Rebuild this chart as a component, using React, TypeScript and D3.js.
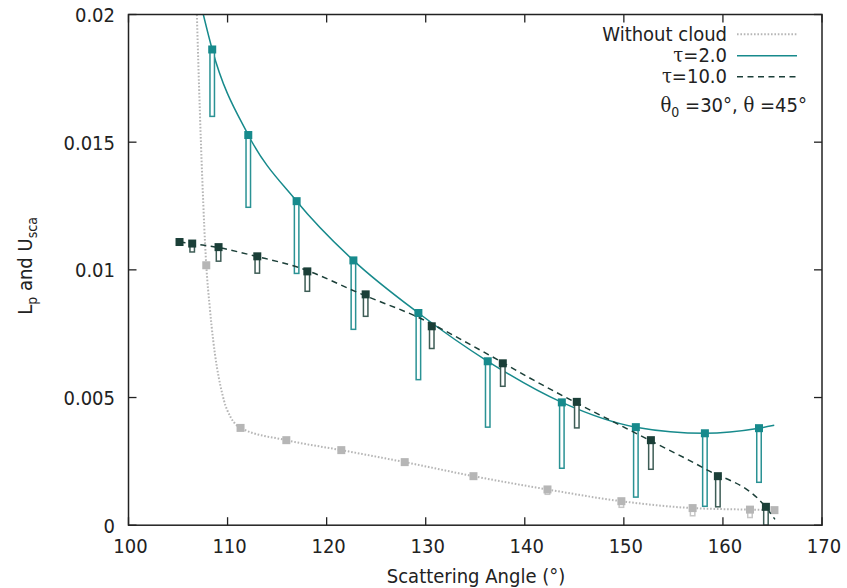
import React from "react";
import * as d3 from "d3";

// ---- data ----
const xTicks = [100, 110, 120, 130, 140, 150, 160, 170];
const yTicks = [0, 0.005, 0.01, 0.015, 0.02];
const yTickLabels = ["0", "0.005", "0.01", "0.015", "0.02"];

// Without cloud
const greyAngle = [107.85, 111.31, 115.93, 121.48, 127.88, 134.82, 142.29, 149.75, 156.94, 162.73, 165.2];
const greyLp = [0.01018, 0.00381, 0.00333, 0.00294, 0.00247, 0.00192, 0.0014, 0.00094, 0.00067, 0.00061, 0.00059];
const greyU = [0.01018, 0.00381, 0.00333, 0.00294, 0.00247, 0.00192, 0.00121, 0.0007, 0.00037, 0.0003, 0.00059];
const greyCurveX = [106.9, 107.2, 107.44, 107.85, 108.2, 109.63, 110.3, 111.31, 115.93, 121.48, 127.88, 134.82, 142.29, 149.75, 156.94, 162.73, 165.2];
const greyCurveY = [0.02, 0.01624, 0.01363, 0.01018, 0.00854, 0.00489, 0.00424, 0.00381, 0.00333, 0.00294, 0.00247, 0.00192, 0.0014, 0.00094, 0.00067, 0.00061, 0.00059];

// tau = 2.0
const tau2Angle = [108.45, 112.09, 116.97, 122.7, 129.26, 136.26, 143.74, 151.21, 158.18, 163.64];
const tau2Lp = [0.01863, 0.01528, 0.01269, 0.01037, 0.00831, 0.00642, 0.00481, 0.00384, 0.0036, 0.0038];
const tau2U = [0.01601, 0.01245, 0.00986, 0.00767, 0.0057, 0.00384, 0.00223, 0.0011, 0.00074, 0.00168];
const tau2CurveX = [107.55, 108.45, 112.09, 116.97, 122.7, 129.26, 136.26, 143.74, 151.21, 158.18, 163.64, 165.18];
const tau2CurveY = [0.02, 0.01863, 0.01528, 0.01269, 0.01037, 0.00831, 0.00642, 0.00481, 0.00384, 0.0036, 0.0038, 0.00391];

// tau = 10.0
const tau10Angle = [105.15, 106.43, 109.09, 113.0, 118.05, 123.94, 130.61, 137.78, 145.25, 152.73, 159.49, 164.34];
const tau10Lp = [0.01109, 0.01103, 0.01089, 0.01053, 0.00994, 0.00904, 0.00779, 0.00634, 0.00483, 0.00333, 0.00192, 0.00072];
const tau10U = [0.01109, 0.0107, 0.01034, 0.00987, 0.00916, 0.00818, 0.00692, 0.00544, 0.00381, 0.00219, 0.00072, 0];
const tau10CurveX = [105.15, 106.43, 109.09, 113.0, 117.03, 123.94, 129.14, 135.5, 140.9, 145.25, 149.3, 152.73, 158.07, 164.34, 165.25];
const tau10CurveY = [0.01109, 0.01103, 0.01087, 0.01052, 0.01011, 0.00898, 0.00816, 0.00686, 0.00568, 0.00478, 0.00398, 0.0033, 0.00223, 0.0007, 0.00023];

// ---- layout ----
const W = 847, H = 588;
const L = 128.5, R = 822, T = 14.5, B = 525.2;
const FONT = "'DejaVu Sans Condensed', 'DejaVu Sans', sans-serif";
const SERIF = "'DejaVu Serif', 'Liberation Serif', serif";

const TEAL = "#178a8c";
const TEAL_BAR = "#2a9294";
const DARK = "#1b3f38";
const DARK_BAR = "#3e5d56";
const GREY = "#b6b6b6";
const GREY_BAR = "#c6c6c6";

export default function App() {
  const x = d3.scaleLinear().domain([100, 170]).range([L, R]);
  const y = d3.scaleLinear().domain([0, 0.02]).range([B, T]);
  const line = d3
    .line<[number, number]>()
    .x((d) => x(d[0]))
    .y((d) => y(d[1]))
    .curve(d3.curveMonotoneX);

  const zip = (a: number[], b: number[]) => a.map((v, i) => [v, b[i]] as [number, number]);

  const series = [
    { ax: greyAngle, lp: greyLp, u: greyU, cx: greyCurveX, cy: greyCurveY, c: GREY, cb: GREY_BAR, dash: "1.6 1.8", lw: 2 },
    { ax: tau2Angle, lp: tau2Lp, u: tau2U, cx: tau2CurveX, cy: tau2CurveY, c: TEAL, cb: TEAL_BAR, dash: undefined, lw: 1.5 },
    { ax: tau10Angle, lp: tau10Lp, u: tau10U, cx: tau10CurveX, cy: tau10CurveY, c: DARK, cb: DARK_BAR, dash: "6 4.5", lw: 1.5 },
  ];

  const tickLen = 8;
  const sq = 8;
  const bw = 4.5;

  return (
    <svg
      width={W}
      height={H}
      style={{ position: "absolute", left: 0, top: 0, background: "#fff" }}
      fontFamily={FONT}
      fontStretch="condensed"
    >
      <defs>
        <clipPath id="plotclip">
          <rect x={L} y={T} width={R - L} height={B - T} />
        </clipPath>
      </defs>

      {/* ticks */}
      {xTicks.map((t) => (
        <g key={"xt" + t}>
          <line x1={x(t)} x2={x(t)} y1={B} y2={B - tickLen} stroke="#222" strokeWidth={1.3} />
          <line x1={x(t)} x2={x(t)} y1={T} y2={T + tickLen} stroke="#222" strokeWidth={1.3} />
          <text x={x(t) + 2} y={553} textAnchor="middle" fontSize={20} fill="#222">
            {t}
          </text>
        </g>
      ))}
      {yTicks.map((t, i) => (
        <g key={"yt" + t}>
          <line x1={L} x2={L + tickLen} y1={y(t)} y2={y(t)} stroke="#222" strokeWidth={1.3} />
          <line x1={R} x2={R - tickLen} y1={y(t)} y2={y(t)} stroke="#222" strokeWidth={1.3} />
          <text x={115} y={y(t) + 7.5} textAnchor="end" fontSize={20} fill="#222">
            {yTickLabels[i]}
          </text>
        </g>
      ))}

      {/* data */}
      <g clipPath="url(#plotclip)">
        {series.map((s, si) => (
          <g key={"s" + si}>
            <path
              d={line(zip(s.cx, s.cy)) || ""}
              fill="none"
              stroke={s.c}
              strokeWidth={s.lw}
              strokeDasharray={s.dash}
            />
            {s.ax.map((a, i) =>
              s.lp[i] - s.u[i] > 0.00005 ? (
                <rect
                  key={"b" + i}
                  x={x(a) - bw / 2}
                  y={y(s.lp[i])}
                  width={bw}
                  height={y(s.u[i]) - y(s.lp[i])}
                  fill="#fff"
                  stroke={s.cb}
                  strokeWidth={1.5}
                />
              ) : null
            )}
            {s.ax.map((a, i) => (
              <rect
                key={"p" + i}
                x={x(a) - sq / 2}
                y={y(s.lp[i]) - sq / 2}
                width={sq}
                height={sq}
                fill={s.c}
              />
            ))}
          </g>
        ))}
      </g>

      {/* frame */}
      <rect x={L} y={T} width={R - L} height={B - T} fill="none" stroke="#222" strokeWidth={1.5} />

      {/* axis labels */}
      <text x={476} y={583} textAnchor="middle" fontSize={20} fill="#222">
        Scattering Angle (°)
      </text>
      <text transform="translate(32,266) rotate(-90)" textAnchor="middle" fontSize={20} fill="#222">
        L<tspan fontSize={14} dy={5}>p</tspan>
        <tspan dy={-5}> and U</tspan>
        <tspan fontSize={14} dy={5}>sca</tspan>
      </text>

      {/* legend */}
      <g fontSize={20} fill="#222">
        <text x={727} y={41} textAnchor="end">Without cloud</text>
        <line x1={737} x2={797} y1={34.3} y2={34.3} stroke={GREY} strokeWidth={2} strokeDasharray="1.6 1.8" />
        <text x={727} y={62} textAnchor="end">
          <tspan fontFamily={SERIF}>τ</tspan>=2.0
        </text>
        <line x1={737} x2={797} y1={55.7} y2={55.7} stroke={TEAL} strokeWidth={1.5} />
        <text x={727} y={83} textAnchor="end">
          <tspan fontFamily={SERIF}>τ</tspan>=10.0
        </text>
        <line x1={737} x2={797} y1={76.7} y2={76.7} stroke={DARK} strokeWidth={1.5} strokeDasharray="6 4.5" />
        <text x={807} y={112} textAnchor="end">
          <tspan fontFamily={SERIF}>θ</tspan>
          <tspan fontSize={14} dy={5}>0</tspan>
          <tspan dy={-5}> =30°, </tspan>
          <tspan fontFamily={SERIF}>θ</tspan>
          <tspan> =45°</tspan>
        </text>
      </g>
    </svg>
  );
}
